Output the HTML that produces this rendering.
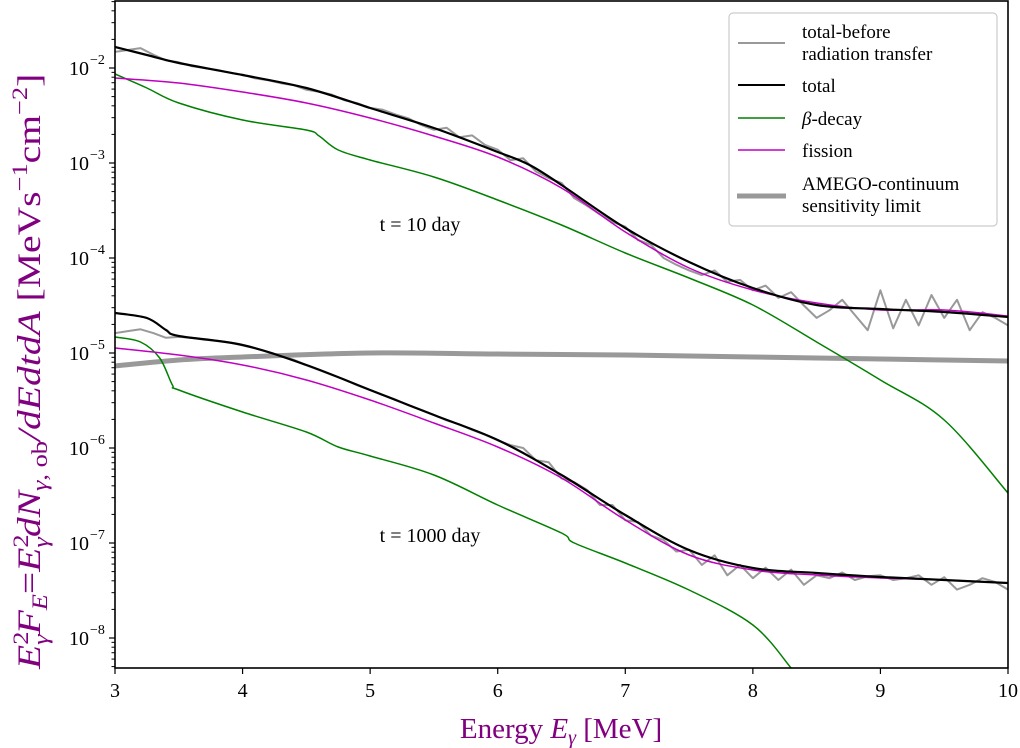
<!DOCTYPE html>
<html><head><meta charset="utf-8"><style>
body{margin:0;background:#fff}
svg{display:block;font-family:"Liberation Serif",serif}
</style></head><body>
<svg id="chart" width="1020" height="748" viewBox="0 0 1020 748" xmlns="http://www.w3.org/2000/svg">
<defs><clipPath id="clip"><rect x="115" y="1" width="893" height="667"/></clipPath></defs>
<g id="marks" clip-path="url(#clip)"></g>
<g id="axes"></g>
<text x="420" y="231" font-size="20" text-anchor="middle">t = 10 day</text>
<text x="430" y="542" font-size="20" text-anchor="middle">t = 1000 day</text>
<text x="561" y="738" font-size="29" fill="#800080" text-anchor="middle">Energy <tspan font-style="italic">E</tspan><tspan font-style="italic" font-size="20" dy="6">γ</tspan><tspan dy="-6"> [MeV]</tspan></text>
<g transform="translate(40,669) rotate(-90) scale(1.2,1)">
<text x="0" y="0" font-size="33" fill="#800080" text-anchor="start"><tspan font-style="italic">E</tspan><tspan font-size="22" dy="-12">2</tspan><tspan font-size="22" font-style="italic" dx="-11" dy="20">γ</tspan><tspan font-style="italic" dy="-8">F</tspan><tspan font-size="22" font-style="italic" dy="7">E</tspan><tspan dy="-7">=</tspan><tspan font-style="italic">E</tspan><tspan font-size="22" dy="-12">2</tspan><tspan font-size="22" font-style="italic" dx="-11" dy="20">γ</tspan><tspan font-style="italic" dy="-8">dN</tspan><tspan font-size="22" dy="7"><tspan font-style="italic">γ</tspan>, ob</tspan><tspan font-style="italic" dy="-7">/dEdtdA</tspan><tspan> [MeVs</tspan><tspan font-size="22" dy="-13">−1</tspan><tspan dy="13">cm</tspan><tspan font-size="22" dy="-13">−2</tspan><tspan dy="13">]</tspan></text>
</g>
<g>
<rect x="729" y="13" width="268" height="213" rx="4" fill="#fff" stroke="#ccc" stroke-width="1.2"/>
<line x1="738" y1="43" x2="785" y2="43" stroke="#999" stroke-width="2"/>
<text x="802" y="38" font-size="19">total-before</text><text x="802" y="60" font-size="19">radiation transfer</text>
<line x1="738" y1="85" x2="785" y2="85" stroke="#000" stroke-width="2"/>
<text x="802" y="92" font-size="19">total</text>
<line x1="738" y1="118" x2="785" y2="118" stroke="#008000" stroke-width="1.5"/>
<text x="802" y="125" font-size="19"><tspan font-style="italic">β</tspan>-decay</text>
<line x1="738" y1="150" x2="785" y2="150" stroke="#c000c0" stroke-width="1.5"/>
<text x="802" y="157" font-size="19">fission</text>
<line x1="737" y1="196" x2="786" y2="196" stroke="#999" stroke-width="5"/>
<text x="802" y="190" font-size="19">AMEGO-continuum</text><text x="802" y="212" font-size="19">sensitivity limit</text>
</g>
</svg>
<script>
// data: log10 of flux
const totalX10 = [3,3.25,3.5,4,4.5,5,5.5,6,6.25,6.5,7,7.5,8,8.5,9,9.5,10];
const total10 = [-1.779,-1.863,-1.947,-2.074,-2.211,-2.421,-2.632,-2.884,-3.021,-3.232,-3.684,-4.042,-4.316,-4.495,-4.537,-4.568,-4.621];
const fissionX = [3,3.5,4,4.5,5,5.5,6,6.5,7,7.5,8,8.5,9,9.5,10];
const fission10 = [-2.105,-2.158,-2.253,-2.368,-2.526,-2.716,-2.937,-3.263,-3.726,-4.105,-4.337,-4.474,-4.547,-4.547,-4.611];
const betaX10 = [3,3.25,3.5,4,4.5,4.6,4.75,5,5.5,6,6.5,7,7.5,8,8.5,9,9.5,10];
const beta10 = [-2.063,-2.211,-2.368,-2.547,-2.653,-2.716,-2.863,-2.968,-3.147,-3.389,-3.653,-3.947,-4.211,-4.495,-4.884,-5.284,-5.705,-6.474];
const totalX1000 = [3,3.25,3.4,3.5,4,4.5,5,5.5,6,6.5,7,7.5,8,8.5,9,9.5,10];
const total1000 = [-4.579,-4.632,-4.758,-4.821,-4.916,-5.126,-5.389,-5.653,-5.916,-6.284,-6.705,-7.074,-7.263,-7.316,-7.358,-7.389,-7.421];
const fission1000 = [-4.947,-5.021,-5.126,-5.284,-5.495,-5.737,-5.989,-6.316,-6.758,-7.126,-7.284,-7.337,-7.368,-7.389,-7.421];
const betaX1000 = [3,3.2,3.35,3.45,3.5,4,4.5,4.75,5,5.5,6,6.5,6.6,7,7.5,8,8.3];
const beta1000 = [-4.832,-4.884,-5.053,-5.337,-5.389,-5.621,-5.832,-5.989,-6.084,-6.284,-6.6,-6.895,-7.0,-7.211,-7.495,-7.863,-8.316];
const amegoX = [3,3.5,4,5,6,7,8,9,10];
const amego = [-5.137,-5.074,-5.042,-5.0,-5.011,-5.021,-5.042,-5.063,-5.084];
const grayStart = 3, grayStep = 0.1;
const gray10 = [-1.83,-1.81,-1.79,-1.86,-1.92,-1.94,-1.98,-2.00,-2.02,-2.05,-2.07,-2.11,-2.13,-2.16,-2.18,-2.23,-2.25,-2.28,-2.34,-2.37,-2.42,-2.44,-2.49,-2.53,-2.60,-2.65,
-2.63,-2.73,-2.71,-2.81,-2.86,-2.97,-2.95,-3.09,-3.16,-3.21,-3.37,-3.45,-3.54,-3.62,-3.67,-3.81,-3.86,-4.00,-4.07,-4.13,-4.18,-4.13,-4.25,-4.23,-4.34,-4.29,-4.42,-4.36,-4.50,-4.63,-4.55,-4.44,-4.60,-4.76,-4.34,-4.74,-4.44,-4.71,-4.39,-4.63,-4.44,-4.76,-4.57,-4.63,-4.71];
const gray1000 = [-4.79,-4.77,-4.75,-4.79,-4.84,-4.83,-4.84,-4.86,-4.87,-4.89,-4.92,-4.95,-4.99,-5.03,-5.07,-5.13,-5.18,-5.23,-5.28,-5.34,-5.39,-5.44,-5.49,-5.55,-5.60,-5.65,-5.71,-5.75,-5.81,-5.86,-5.92,-5.97,-6.00,-6.13,-6.15,-6.32,-6.36,-6.44,-6.60,-6.60,-6.76,-6.78,-6.92,-6.97,-7.09,-7.07,-7.23,-7.13,-7.34,-7.23,-7.37,-7.26,-7.39,-7.28,-7.44,-7.34,-7.37,-7.31,-7.39,-7.35,-7.34,-7.39,-7.37,-7.34,-7.44,-7.36,-7.49,-7.44,-7.37,-7.41,-7.49];
const xTicks = [3,4,5,6,7,8,9,10];
const yDecades = [-2,-3,-4,-5,-6,-7,-8];

const NS='http://www.w3.org/2000/svg';
const X0=115,X1=1008,Y0=1,Y1=668;
const xs=v=>X0+(v-3)/7*(X1-X0);
const ys=l=>68+(-2-l)*95;
const marks=document.getElementById('marks'), axes=document.getElementById('axes');
function mk(tag,attrs,parent){const e=document.createElementNS(NS,tag);for(const k in attrs)e.setAttribute(k,attrs[k]);parent.appendChild(e);return e;}
function pathD(P,smooth){
  if(!smooth) return P.map((p,i)=>(i?'L':'M')+p[0].toFixed(1)+' '+p[1].toFixed(1)).join('');
  let d='M'+P[0][0].toFixed(1)+' '+P[0][1].toFixed(1);
  for(let i=0;i<P.length-1;i++){
    const p0=P[i-1]||P[i],p1=P[i],p2=P[i+1],p3=P[i+2]||P[i+1];
    const c1=[p1[0]+(p2[0]-p0[0])/6,p1[1]+(p2[1]-p0[1])/6];
    const c2=[p2[0]-(p3[0]-p1[0])/6,p2[1]-(p3[1]-p1[1])/6];
    d+='C'+c1.map(v=>v.toFixed(1)).join(' ')+' '+c2.map(v=>v.toFixed(1)).join(' ')+' '+p2[0].toFixed(1)+' '+p2[1].toFixed(1);
  }
  return d;
}
function line(xArr,yArr,color,w,name,smooth){
  const P=xArr.map((x,i)=>[xs(x),ys(yArr[i])]);
  const p=mk('path',{d:pathD(P,smooth),fill:'none',stroke:color,'stroke-width':w,'stroke-linejoin':'round'},marks);
  
  
}
const gx=gray10.map((_,i)=>grayStart+i*grayStep);
line(amegoX,amego,'#999',5,'amego-sensitivity-line',true);
line(gx,gray10,'#999',2,'total-before-10day-line',false);
line(gx.slice(0,gray1000.length),gray1000,'#999',2,'total-before-1000day-line',false);
line(betaX10,beta10,'#008000',1.5,'beta-decay-10day-line',true);
line(betaX1000,beta1000,'#008000',1.5,'beta-decay-1000day-line',true);
line(fissionX,fission10,'#c000c0',1.5,'fission-10day-line',true);
line(fissionX,fission1000,'#c000c0',1.5,'fission-1000day-line',true);
line(totalX10,total10,'#000',2.2,'total-10day-line',true);
line(totalX1000,total1000,'#000',2.2,'total-1000day-line',true);

mk('rect',{x:X0,y:Y0,width:X1-X0,height:Y1-Y0,fill:'none',stroke:'#000','stroke-width':1.6},axes);
xTicks.forEach(v=>{
  const x=xs(v);
  mk('line',{x1:x,y1:Y1,x2:x,y2:Y1+6,stroke:'#000','stroke-width':1.2},axes);
  const t=mk('text',{x:x,y:Y1+29,'font-size':20,'text-anchor':'middle'},axes);
  t.textContent=v;
  
  
});
yDecades.forEach(d=>{
  const y=ys(d);
  mk('line',{x1:X0-6,y1:y,x2:X0,y2:y,stroke:'#000','stroke-width':1.2},axes);
  const t=mk('text',{x:X0-26,y:y+7,'font-size':20,'text-anchor':'end'},axes);
  t.textContent='10';
  
  
  const s=mk('text',{x:X0-25,y:y-4,'font-size':14,'text-anchor':'start'},axes);
  s.textContent='−'+(-d);
  for(let m=2;m<=9;m++){
    const yy=ys(d-1+Math.log10(m));
    if(yy>=Y0&&yy<=Y1) mk('line',{x1:X0-3.5,y1:yy,x2:X0,y2:yy,stroke:'#000','stroke-width':1},axes);
  }
});
for(let m=2;m<=9;m++){const yy=ys(-2+Math.log10(m));if(yy>=Y0)mk('line',{x1:X0-3.5,y1:yy,x2:X0,y2:yy,stroke:'#000','stroke-width':1},axes);}
</script>
</body></html>
